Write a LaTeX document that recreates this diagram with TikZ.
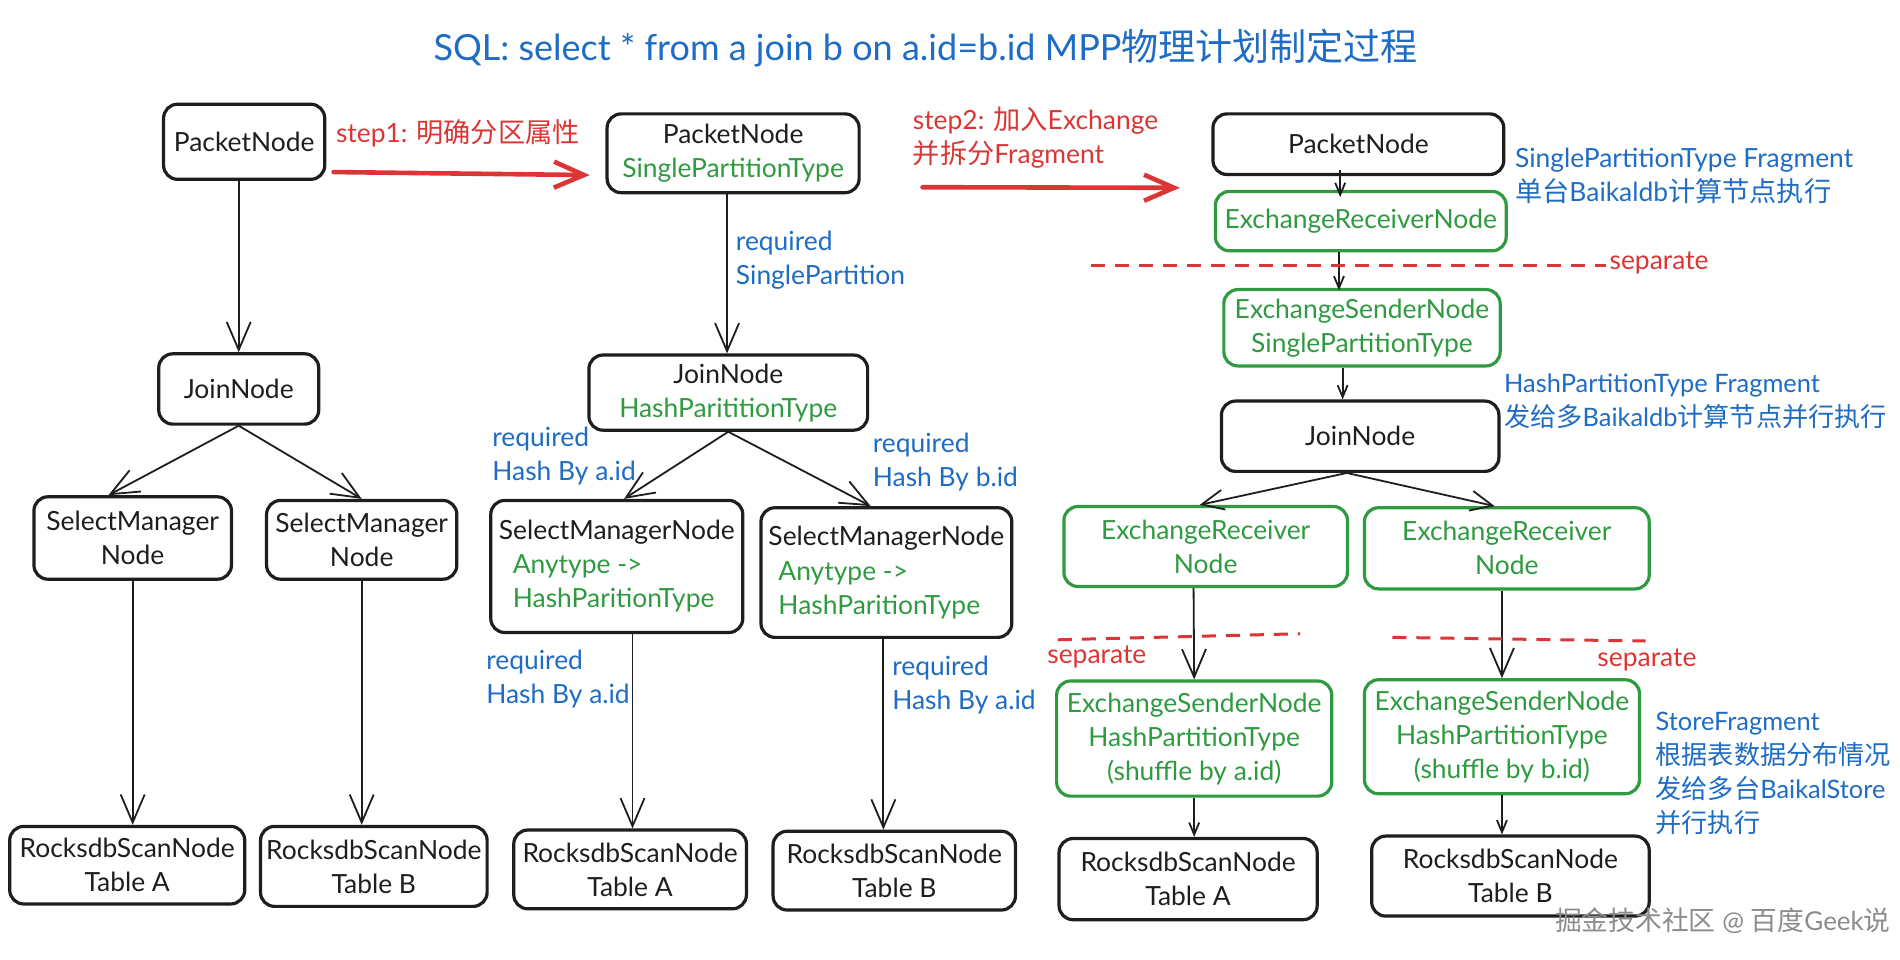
\documentclass[tikz,border=0pt]{standalone}
\usepackage{fontspec}
\setmainfont{Lato}
\newfontfamily\cjk[Scale=1.03]{Noto Sans CJK SC}
\usetikzlibrary{arrows.meta,calc}
\newdimen\U \U=0.6058pt
\definecolor{cblue}{HTML}{1F6CC4}
\definecolor{cgreen}{HTML}{2F9A40}
\definecolor{cred}{HTML}{DC3535}
\definecolor{cblack}{HTML}{1E1E1E}
\newcommand\nodefont{\fontsize{13.2}{17}\selectfont}
\newcommand\notefont{\fontsize{12.7}{17}\selectfont}
\begin{document}
\begin{tikzpicture}[x=0.6058pt,y=-0.6058pt,
  box/.style={draw=cblack, line width=1.6pt, rounded corners=7pt, align=center, inner sep=0pt, font=\nodefont, text=cblack},
  gbox/.style={box, draw=cgreen, text=cgreen},
  sz/.style 2 args={minimum width=#1*\U, minimum height=#2*\U},
  arr/.style={draw=cblack, line width=0.9pt, -{Straight Barb[length=14pt,width=12pt,line width=0.9pt]}},
  sarr/.style={draw=cblack, line width=0.9pt, -{Straight Barb[length=6pt,width=5pt,line width=0.9pt]}},
  marr/.style={draw=cblack, line width=0.9pt, -{Straight Barb[length=11pt,width=10pt,line width=0.9pt]}},
  rarr/.style={draw=cred, line width=2.3pt, line cap=round, -{Straight Barb[length=15pt,width=13pt,line width=2.3pt]}},
  lbl/.style={anchor=west, align=left, inner sep=0pt, font=\nodefont, text=cblue},
  note/.style={lbl, font=\notefont},
  rlbl/.style={lbl, text=cred},
  sep/.style={draw=cred, line width=1.5pt, dash pattern=on 7pt off 5pt},
]
\useasboundingbox (0,0) rectangle (1568,792);
\fill[white] (0,0) rectangle (1568,792);

% title
\node[font=\fontsize{18}{20}\selectfont, text=cblue, inner sep=0pt] (title) at (764,40) {SQL: select * from a join b on a.id=b.id MPP{\cjk 物理计划制定过程}};

% column 1
\node[box, sz={133}{62}] (p1) at (201.5,117) {PacketNode};
\node[box, sz={132}{58}] (j1) at (197,321) {JoinNode};
\node[box, sz={163}{68}] (s1) at (109.5,444) {SelectManager\\Node};
\node[box, sz={157}{65}] (s2) at (298.5,445.5) {SelectManager\\Node};
\node[box, sz={194}{64}] (r1) at (105,714) {RocksdbScanNode\\Table A};
\node[box, sz={187}{66}] (r2) at (308.5,715) {RocksdbScanNode\\Table B};

\draw[arr] (p1.south -| j1) -- (j1.north);
\draw[arr] (j1.south) -- ($(s1.north)+(-20,0)$);
\draw[arr] (j1.south) -- (s2.north);
\draw[arr] (s1.south) -- (s1.south |- r1.north);
\draw[arr] (s2.south) -- (s2.south |- r2.north);

% column 2
\node[box, sz={208}{65}] (p2) at (605,126.5) {PacketNode\\{\color{cgreen}SinglePartitionType}};
\node[box, sz={230}{62}] (j2) at (601,324) {JoinNode\\{\color{cgreen}HashParititionType}};
\node[box, sz={208}{109}, align=left] (s3) at (509,467.5) {SelectManagerNode\\\hspace*{7pt}{\color{cgreen}Anytype ->}\\\hspace*{7pt}{\color{cgreen}HashParitionType}};
\node[box, sz={207}{107}, align=left] (s4) at (731.5,472.5) {SelectManagerNode\\\hspace*{5pt}{\color{cgreen}Anytype ->}\\\hspace*{5pt}{\color{cgreen}HashParitionType}};
\node[box, sz={192}{65}] (r3) at (520,717.5) {RocksdbScanNode\\Table A};
\node[box, sz={200}{65}] (r4) at (738,718.5) {RocksdbScanNode\\Table B};

\draw[arr] ($(p2.south)+(-5,0)$) -- ($(p2.south |- j2.north)+(-5,0)$);
\draw[arr] (j2.south) -- ($(s3.north)+(6,0)$);
\draw[arr] (j2.south) -- ($(s4.north)+(-13,0)$);
\draw[arr] ($(s3.south)+(13,0)$) -- ($(s3.south |- r3.north)+(13,0)$);
\draw[arr] ($(s4.south)+(-2.5,0)$) -- ($(s4.south |- r4.north)+(-2.5,0)$);

\node[lbl] (l1) at (607,214.5) {required\\SinglePartition};
\node[lbl] (l2) at (406,376) {required\\Hash By a.id};
\node[lbl] (l3) at (720,381) {required\\Hash By b.id};
\node[lbl] (l4) at (401,560) {required\\Hash By a.id};
\node[lbl] (l5) at (736,565) {required\\Hash By a.id};

% column 3
\node[box, sz={240}{50}] (p3) at (1121,119) {PacketNode};
\node[gbox, sz={240}{49}] (e3) at (1123,182.5) {ExchangeReceiverNode};
\node[gbox, sz={228}{63}] (x3) at (1124,270.5) {ExchangeSenderNode\\SinglePartitionType};
\node[box, sz={229}{58}] (j3) at (1122.5,360) {JoinNode};
\node[gbox, sz={234}{66}] (e4) at (995,451) {ExchangeReceiver\\Node};
\node[gbox, sz={235}{67}] (e5) at (1243.5,452.5) {ExchangeReceiver\\Node};
\node[gbox, sz={227}{95}] (x4) at (985.5,609.5) {ExchangeSenderNode\\HashPartitionType\\(shuffle by a.id)};
\node[gbox, sz={227}{94}] (x5) at (1239.5,608) {ExchangeSenderNode\\HashPartitionType\\(shuffle by b.id)};
\node[box, sz={213}{67}] (r5) at (980.5,725.5) {RocksdbScanNode\\Table A};
\node[box, sz={229}{66}] (r6) at (1246.5,723) {RocksdbScanNode\\Table B};

\draw[sarr] ($(p3.south)+(-15,-5)$) -- ($(p3.south |- e3.north)+(-15,6)$);
\draw[sarr] ($(e3.south)+(-18,0)$) -- ($(e3.south |- x3.north)+(-18,2)$);
\draw[sarr] ($(x3.south)+(-16,0)$) -- ($(x3.south |- j3.north)+(-16,0)$);
\draw[marr] ($(j3.south)+(-11,0)$) -- ($(e4.north)+(-5,0)$);
\draw[marr] ($(j3.south)+(-11,0)$) -- ($(e5.north)+(-10,0)$);
\draw[arr] ($(e4.south)+(-10,0)$) -- (x4.north);
\draw[arr] (e5.south -| x5) -- (x5.north);
\draw[sarr] (x4.south) -- (x4.south |- r5.north);
\draw[sarr] (x5.south) -- (x5.south |- r6.north);

% steps
\node[rlbl] (st1) at (277,110) {step1: {\cjk 明确分区属性}};
\draw[rarr] ($(p1.east)+(6,25)$) -- ($(p2.west)+(-13,18)$);
\node[rlbl] (st2) at (753,114) {step2: {\cjk 加入}Exchange\\{\cjk 并拆分}Fragment};
\draw[rarr] ($(p2.east)+(51,28)$) -- ($(p3.west)+(-26,36)$);

% separators
\draw[sep] (900,219) -- (1325,219);
\node[rlbl] (sp1) at (1328,217) {separate};
\draw[sep] (873,528) -- (1073,523);
\node[rlbl] (sp2) at (864,542) {separate};
\draw[sep] (1149,526) -- (1358,529);
\node[rlbl] (sp3) at (1318,545) {separate};

% fragment notes
\node[lbl] (n1) at (1250,145.5) {SinglePartitionType Fragment\\{\cjk 单台}Baikaldb{\cjk 计算节点执行}};
\node[note] (n2) at (1241,331.5) {HashPartitionType Fragment\\{\cjk 发给多}Baikaldb{\cjk 计算节点并行执行}};
\node[note] (n3) at (1366,638) {StoreFragment\\{\cjk 根据表数据分布情况}\\{\cjk 发给多台}BaikalStore\\{\cjk 并行执行}};

% watermark
\node[anchor=west, inner sep=0pt, font=\fontsize{13}{16}\selectfont, text=black!45] (wm) at (1283,760) {{\cjk 掘金技术社区} @ {\cjk 百度}Geek{\cjk 说}};
\end{tikzpicture}
\end{document}
